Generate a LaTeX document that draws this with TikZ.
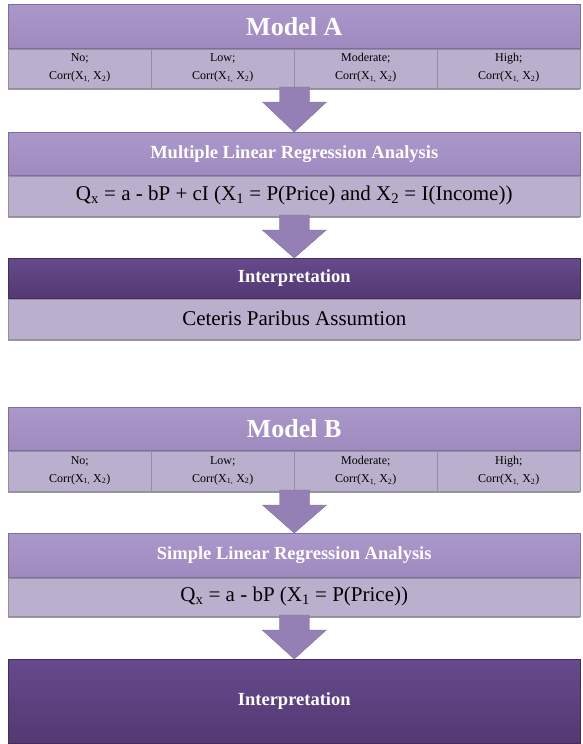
\documentclass[tikz,border=0pt]{standalone}
\usepackage{fontspec}
\setmainfont{Liberation Serif}
\usetikzlibrary{positioning,calc,shadows}

\definecolor{bandpurple}{HTML}{9F8ABF}
\definecolor{bandpurpletop}{HTML}{AB98CA}
\definecolor{celllilac}{HTML}{BAB0CD}
\definecolor{darkpurple}{HTML}{533872}
\definecolor{darkpurpletop}{HTML}{664A8C}
\definecolor{arrowpurple}{HTML}{9480B4}

\newcommand{\blockarrow}[2]{%
  \fill[arrowfill] ($(#1)+(-15,-1)$) -- ($(#1)+(15,-1)$) -- ($(#1)+(15,14)$) -- ($(#1)+(32,14)$)
    -- (#2) -- ($(#1)+(-32,14)$) -- ($(#1)+(-15,14)$) -- cycle;}

\tikzset{
  boxshadow/.style={drop shadow={shadow xshift=0pt, shadow yshift=-2.5pt, fill=black, opacity=0.4}},
  titleband/.style={draw=bandpurple!80!black, line width=0.5pt, top color=bandpurpletop, bottom color=bandpurple,
    text=white, inner sep=0pt, minimum width=572pt, anchor=north west, font=\bfseries\fontsize{18.5}{22}\selectfont},
  darkband/.style={titleband, draw=darkpurple!80!black, top color=darkpurpletop, bottom color=darkpurple},
  lightband/.style={draw=celllilac!80!black, line width=0.5pt, fill=celllilac, inner sep=0pt,
    minimum width=572pt, font=\fontsize{21}{25}\selectfont},
  cellbox/.style={lightband, boxshadow, minimum width=143pt, minimum height=39pt, anchor=north west,
    align=center, font=\fontsize{12}{18}\selectfont},
  arrowfill/.style={fill=arrowpurple, draw=arrowpurple!85!black, line width=0.4pt}
}

\newcommand{\corrtext}{Corr(X\textsubscript{1,} X\textsubscript{2})}

\begin{document}
\begin{tikzpicture}[x=1pt, y=-1pt]
	\useasboundingbox (0,0) rectangle (582,744);
	% Model A
	\node[titleband, minimum height=44pt, font=\bfseries\fontsize{26}{30}\selectfont] (modelA) at (8,4) {Model A};
	\foreach \lvl [count=\i] in {No,Low,Moderate,High}
		\node[cellbox] (a\i) at ($(modelA.south west)+({(\i-1)*143},0)$) {\lvl;\\\corrtext};
	\node[titleband, minimum height=43pt] (mlr) at (8,132) {Multiple Linear Regression Analysis};
	\node[lightband, boxshadow, minimum height=40pt, below=0pt of mlr] (mlreq)
		{Q\textsubscript{x} = a - bP + cI (X\textsubscript{1} = P(Price) and X\textsubscript{2} = I(Income))};
	\node[darkband, minimum height=40pt] (interpA) at (8,258) {Interpretation};
	\node[lightband, boxshadow, minimum height=40pt, below=0pt of interpA] (ceteris) {Ceteris Paribus Assumtion};
	\blockarrow{a2.south east}{mlr.north}
	\blockarrow{mlreq.south}{interpA.north}
	% Model B
	\node[titleband, minimum height=43pt, font=\bfseries\fontsize{26}{30}\selectfont] (modelB) at (8,407) {Model B};
	\foreach \lvl [count=\i] in {No,Low,Moderate,High}
		\node[cellbox, minimum height=40pt] (b\i) at ($(modelB.south west)+({(\i-1)*143},0)$) {\lvl;\\\corrtext};
	\node[titleband, minimum height=44pt] (slr) at (8,533) {Simple Linear Regression Analysis};
	\node[lightband, boxshadow, minimum height=38pt, below=0pt of slr] (slreq)
		{Q\textsubscript{x} = a - bP (X\textsubscript{1} = P(Price))};
	\node[darkband, minimum height=84pt] (interpB) at (8,659) {Interpretation};
	\blockarrow{b2.south east}{slr.north}
	\blockarrow{slreq.south}{interpB.north}
\end{tikzpicture}
\end{document}
